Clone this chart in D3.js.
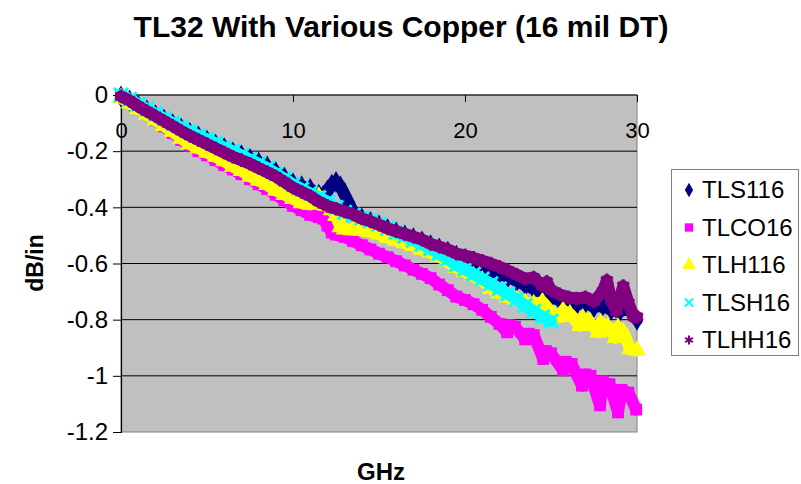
<!DOCTYPE html>
<html>
<head>
<meta charset="utf-8">
<script src="https://cdn.jsdelivr.net/npm/d3@7"></script>
<style>
  html, body { margin: 0; padding: 0; background: #ffffff; }
  svg { display: block; font-family: Arial, "Liberation Sans", sans-serif; }
</style>
</head>
<body>
<svg id="chart" width="801" height="484"></svg>
<script>
// Insertion loss per inch, [GHz, dB/in]
const tls116 = [
  [0,-0.005],[0.5,-0.02],[1,-0.038],[1.5,-0.055],[2,-0.072],[2.5,-0.088],[3,-0.104],[3.5,-0.12],
  [4,-0.135],[4.5,-0.148],[5,-0.163],[5.5,-0.177],[6,-0.19],[6.5,-0.205],[7,-0.215],[7.5,-0.228],
  [8,-0.24],[8.5,-0.255],[9,-0.275],[9.5,-0.295],[10,-0.315],[10.5,-0.325],[11,-0.335],[11.5,-0.355],
  [11.75,-0.36],[12,-0.34],[12.25,-0.32],[12.5,-0.31],[12.75,-0.325],[13,-0.355],[13.25,-0.385],[13.5,-0.42],
  [14,-0.44],[14.5,-0.452],[15,-0.465],[15.5,-0.478],[16,-0.49],[16.5,-0.5],[17,-0.51],[17.5,-0.522],
  [18,-0.535],[18.5,-0.547],[19,-0.558],[19.5,-0.572],[20,-0.585],[20.5,-0.598],[21,-0.612],[21.5,-0.625],
  [22,-0.636],[22.5,-0.648],[23,-0.662],[23.5,-0.677],[24,-0.69],[24.5,-0.705],[25,-0.72],[25.5,-0.73],
  [26,-0.74],[26.5,-0.745],[27,-0.74],[27.5,-0.755],[28,-0.75],[28.5,-0.765],[29,-0.77],[29.5,-0.76],[30,-0.8]
];
const tlco16 = [
  [0,-0.005],[0.5,-0.025],[1,-0.045],[1.5,-0.068],[2,-0.09],[2.5,-0.112],[3,-0.135],[3.5,-0.16],
  [4,-0.18],[4.5,-0.2],[5,-0.215],[5.5,-0.232],[6,-0.25],[6.5,-0.265],[7,-0.282],[7.5,-0.3],
  [8,-0.318],[8.5,-0.335],[9,-0.355],[9.5,-0.375],[10,-0.395],[10.5,-0.41],[11,-0.427],[11.5,-0.435],
  [11.75,-0.44],[12,-0.465],[12.25,-0.49],[12.5,-0.497],[13,-0.505],[13.5,-0.52],[14,-0.535],[14.5,-0.55],
  [15,-0.565],[15.5,-0.578],[16,-0.592],[16.5,-0.607],[17,-0.622],[17.5,-0.637],[18,-0.652],[18.5,-0.675],
  [19,-0.695],[19.5,-0.718],[20,-0.73],[20.5,-0.745],[21,-0.765],[21.5,-0.79],[22,-0.815],[22.45,-0.845],
  [22.6,-0.82],[22.9,-0.825],[23.5,-0.87],[23.7,-0.85],[24,-0.855],[24.55,-0.94],[24.7,-0.912],[25,-0.92],
  [25.7,-0.98],[25.85,-0.95],[26.2,-0.958],[26.8,-1.035],[27,-0.995],[27.3,-1.0],[27.85,-1.105],[28,-1.02],
  [28.4,-1.03],[28.9,-1.13],[29.1,-1.05],[29.5,-1.06],[29.95,-1.12]
];
const tlh116 = [
  [0,-0.01],[0.5,-0.03],[1,-0.05],[1.5,-0.07],[2,-0.09],[2.5,-0.11],[3,-0.13],[3.5,-0.155],
  [4,-0.175],[4.5,-0.19],[5,-0.205],[5.5,-0.22],[6,-0.235],[6.5,-0.255],[7,-0.27],[7.5,-0.29],
  [8,-0.305],[8.5,-0.32],[9,-0.34],[9.5,-0.355],[10,-0.37],[10.5,-0.385],[11,-0.39],[11.25,-0.375],
  [11.5,-0.362],[11.75,-0.375],[12,-0.395],[12.25,-0.41],[12.5,-0.43],[12.75,-0.47],[13,-0.478],[13.5,-0.48],
  [14,-0.482],[14.5,-0.486],[15,-0.495],[15.5,-0.508],[16,-0.518],[16.5,-0.527],[17,-0.537],[17.5,-0.55],
  [18,-0.56],[18.5,-0.575],[19,-0.595],[19.5,-0.615],[20,-0.63],[20.5,-0.645],[21,-0.66],[21.5,-0.69],
  [22,-0.705],[22.5,-0.72],[23,-0.73],[23.5,-0.74],[24,-0.745],[24.5,-0.737],[25.2,-0.787],[25.55,-0.79],
  [25.7,-0.768],[26.1,-0.78],[26.7,-0.822],[26.85,-0.795],[27.2,-0.805],[27.75,-0.845],[27.9,-0.812],[28.3,-0.825],
  [28.75,-0.865],[28.9,-0.828],[29.2,-0.845],[29.6,-0.905],[30,-0.91]
];
const tlsh16 = [
  [0,0],[0.5,-0.015],[1,-0.033],[1.5,-0.05],[2,-0.067],[2.5,-0.083],[3,-0.1],[3.5,-0.115],
  [4,-0.13],[4.5,-0.145],[5,-0.158],[5.5,-0.172],[6,-0.187],[6.5,-0.2],[7,-0.215],[7.5,-0.23],
  [8,-0.245],[8.5,-0.26],[9,-0.28],[9.5,-0.298],[10,-0.318],[10.5,-0.335],[11,-0.35],[11.5,-0.365],
  [12,-0.38],[12.5,-0.4],[13,-0.418],[13.5,-0.428],[14,-0.438],[14.5,-0.448],[15,-0.46],[15.5,-0.475],
  [16,-0.49],[16.5,-0.503],[17,-0.517],[17.5,-0.532],[18,-0.547],[18.5,-0.565],[19,-0.585],[19.5,-0.605],
  [20,-0.62],[20.5,-0.638],[21,-0.655],[21.5,-0.672],[22,-0.69],[22.5,-0.708],[23,-0.728],[23.5,-0.75],
  [24,-0.77],[24.5,-0.79],[25,-0.805]
];
const tlhh16 = [
  [0,-0.005],[0.5,-0.02],[1,-0.04],[1.5,-0.058],[2,-0.075],[2.5,-0.093],[3,-0.11],[3.5,-0.128],
  [4,-0.145],[4.5,-0.16],[5,-0.175],[5.5,-0.19],[6,-0.205],[6.5,-0.22],[7,-0.232],[7.5,-0.245],
  [8,-0.26],[8.5,-0.275],[9,-0.29],[9.5,-0.31],[10,-0.33],[10.5,-0.345],[11,-0.36],[11.5,-0.38],
  [12,-0.395],[12.5,-0.405],[13,-0.415],[13.5,-0.425],[14,-0.44],[14.5,-0.45],[15,-0.462],[15.5,-0.475],
  [16,-0.485],[16.5,-0.495],[17,-0.505],[17.5,-0.515],[18,-0.53],[18.5,-0.54],[19,-0.55],[19.5,-0.565],
  [20,-0.572],[20.5,-0.58],[21,-0.59],[21.5,-0.6],[22,-0.612],[22.5,-0.625],[23,-0.64],[23.5,-0.655],
  [24,-0.65],[24.5,-0.68],[24.75,-0.665],[25,-0.695],[25.5,-0.71],[26,-0.72],[26.5,-0.725],[27,-0.72],
  [27.5,-0.735],[28,-0.7],[28.25,-0.66],[28.5,-0.73],[28.8,-0.77],[29.2,-0.68],[29.5,-0.74],[29.8,-0.79],[30,-0.79]
];

const seriesNames = ["TLS116", "TLCO16", "TLH116", "TLSH16", "TLHH16"];
const seriesColors = ["#000080", "#FF00FF", "#FFFF00", "#00FFFF", "#800080"];
const seriesData = [tls116, tlco16, tlh116, tlsh16, tlhh16];
const xTicks = [0, 10, 20, 30];
const yTicks = [0, -0.2, -0.4, -0.6, -0.8, -1, -1.2];

const svg = d3.select("#chart");
const x = d3.scaleLinear().domain([0, 30]).range([121, 637]);
const y = d3.scaleLinear().domain([-1.2, 0]).range([432, 95]);

// plot area
svg.append("rect")
  .attr("x", x(0)).attr("y", y(0))
  .attr("width", x(30) - x(0)).attr("height", y(-1.2) - y(0))
  .attr("fill", "#C0C0C0").attr("stroke", "#808080").attr("stroke-width", 1);

// horizontal gridlines
svg.append("g").selectAll("line").data(yTicks.filter(d => d !== -1.2)).join("line")
  .attr("x1", x(0)).attr("x2", x(30))
  .attr("y1", d => y(d)).attr("y2", d => y(d))
  .attr("stroke", "#000").attr("stroke-width", 1);

// y axis
const yAxis = svg.append("g").attr("transform", `translate(${x(0)},0)`)
  .call(d3.axisLeft(y).tickValues(yTicks).tickSize(8).tickPadding(5)
    .tickFormat(d => d === 0 ? "0" : String(+d.toFixed(1))));
yAxis.select(".domain").attr("stroke", "#000").attr("stroke-width", 1.2);
yAxis.selectAll(".tick line").attr("stroke", "#000");
yAxis.selectAll(".tick text").attr("font-size", 24).attr("fill", "#000")
  .attr("font-family", "Arial, 'Liberation Sans', sans-serif");

// x axis on the zero line
const xAxis = svg.append("g").attr("transform", `translate(0,${y(0)})`)
  .call(d3.axisBottom(x).tickValues(xTicks).tickSize(7).tickPadding(4));
xAxis.select(".domain").remove();
xAxis.selectAll(".tick line").attr("stroke", "#000");
xAxis.selectAll(".tick text").attr("font-size", 22).attr("fill", "#000")
  .attr("font-family", "Arial, 'Liberation Sans', sans-serif")
  .attr("y", 43).attr("dy", 0);

// series: dense marker bands
const symbolTypes = [d3.symbolDiamond, d3.symbolSquare, d3.symbolTriangle, d3.symbolX, d3.symbolAsterisk];
const line = d3.line().x(d => x(d[0])).y(d => y(d[1]));
seriesData.forEach((data, i) => {
  const g = svg.append("g");
  g.append("path").datum(data)
    .attr("d", line)
    .attr("fill", "none")
    .attr("stroke", seriesColors[i])
    .attr("stroke-width", 12)
    .attr("stroke-linejoin", "round")
    .attr("stroke-linecap", "round");
  const stroked = i >= 3;
  g.selectAll("path.m").data(data).join("path")
    .attr("class", "m")
    .attr("transform", d => `translate(${x(d[0])},${y(d[1])})`)
    .attr("d", d3.symbol().type(symbolTypes[i]).size(stroked ? 130 : 140))
    .attr("fill", stroked ? "none" : seriesColors[i])
    .attr("stroke", stroked ? seriesColors[i] : "none")
    .attr("stroke-width", stroked ? 3 : 0);
});

// title and axis titles
svg.append("text")
  .attr("x", 401).attr("y", 37)
  .attr("text-anchor", "middle")
  .attr("font-size", 30).attr("font-weight", "bold")
  .text("TL32 With Various Copper (16 mil DT)");

svg.append("text")
  .attr("transform", "translate(43,263) rotate(-90)")
  .attr("text-anchor", "middle")
  .attr("font-size", 23).attr("font-weight", "bold")
  .text("dB/in");

svg.append("text")
  .attr("x", 381).attr("y", 480)
  .attr("text-anchor", "middle")
  .attr("font-size", 24).attr("font-weight", "bold")
  .text("GHz");

// legend
const legend = svg.append("g");
legend.append("rect")
  .attr("x", 671.5).attr("y", 169.5).attr("width", 127).attr("height", 186)
  .attr("fill", "#fff").attr("stroke", "#808080").attr("stroke-width", 1);
const legendSymbolSizes = [60, 70, 80, 45, 55];
seriesNames.forEach((name, i) => {
  const cy = 190 + i * 37.5;
  const stroked = i >= 3;
  legend.append("path")
    .attr("transform", `translate(689,${cy})`)
    .attr("d", d3.symbol().type(symbolTypes[i]).size(legendSymbolSizes[i]))
    .attr("fill", stroked ? "none" : seriesColors[i])
    .attr("stroke", stroked ? seriesColors[i] : "none")
    .attr("stroke-width", stroked ? 2 : 0);
  legend.append("text")
    .attr("x", 702).attr("y", cy + 8)
    .attr("font-size", 24)
    .text(name);
});
</script>
</body>
</html>
